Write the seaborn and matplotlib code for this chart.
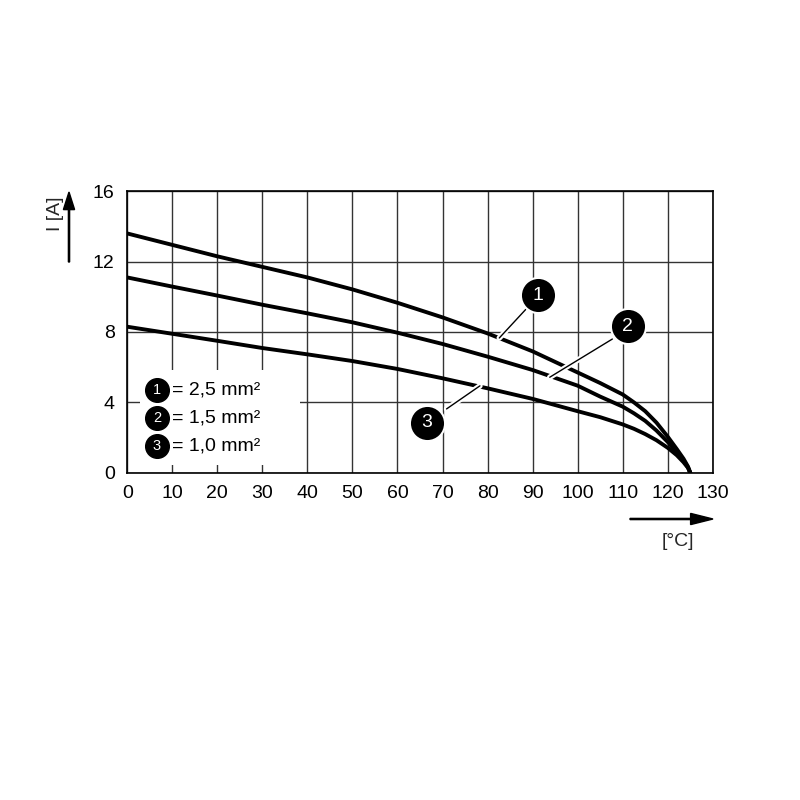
import numpy as np
import pandas as pd
import matplotlib
matplotlib.use("Agg")
import matplotlib.pyplot as plt
import matplotlib.patheffects as pe
from matplotlib.patches import Rectangle, FancyArrow
import seaborn as sns

# Derating curves (temperature in °C, current in A)
temps = [0, 10, 20, 30, 40, 50, 60, 70, 80, 90, 100, 105, 110, 112.5, 115, 117.5,
         120, 122, 123.5, 124.5, 125]
curve_25 = [13.6, 12.95, 12.3, 11.7, 11.1, 10.42, 9.66, 8.83, 7.92, 6.9, 5.7, 5.1, 4.45,
            4.0, 3.5, 2.85, 2.05, 1.35, 0.8, 0.35, 0.0]
curve_15 = [11.1, 10.58, 10.07, 9.55, 9.06, 8.55, 7.96, 7.32, 6.6, 5.84, 4.95, 4.33, 3.76,
            3.38, 2.95, 2.4, 1.75, 1.15, 0.7, 0.3, 0.0]
curve_10 = [8.3, 7.9, 7.5, 7.09, 6.73, 6.35, 5.9, 5.37, 4.8, 4.2, 3.5, 3.16, 2.75,
            2.5, 2.2, 1.85, 1.42, 1.0, 0.6, 0.28, 0.0]

labels = ["1", "2", "3"]
sections = ["2,5 mm²", "1,5 mm²", "1,0 mm²"]

x_ticks = list(range(0, 131, 10))
y_ticks = [0, 4, 8, 12, 16]

# callouts: circle position and leader line (start -> point on curve)
callout_pos = [(91.2, 10.1), (111.1, 8.34), (66.5, 2.84)]
leader_from = [(88.5, 9.29), (107.7, 7.6), (70.9, 3.63)]
leader_to = [(82.6, 7.66), (93.8, 5.43), (78.3, 4.94)]

df = pd.concat([
    pd.DataFrame({"T": temps, "I": vals, "curve": lab})
    for vals, lab in zip([curve_25, curve_15, curve_10], labels)
])

sns.set_theme(style="white")
plt.rcParams["font.family"] = ["Liberation Sans", "DejaVu Sans"]

fig = plt.figure(figsize=(8, 8), dpi=100)
ax = fig.add_axes([0.159, 0.409, 0.732, 0.352])

sns.lineplot(data=df, x="T", y="I", hue="curve", palette=["black"] * 3,
             linewidth=2.8, legend=False, ax=ax, zorder=3)

ax.set_xlim(0, 130)
ax.set_ylim(0, 16)
ax.set_xticks(x_ticks)
ax.set_yticks(y_ticks)
ax.grid(True, color="#333333", linewidth=1.0, zorder=1)
ax.set_axisbelow(True)
for s in ax.spines.values():
    s.set_color("black")
    s.set_linewidth(1.2)
ax.tick_params(length=0, labelsize=14, colors="black", pad=9)
ax.set_xlabel("")
ax.set_ylabel("")

# white box for legend, hiding grid
ax.add_patch(Rectangle((2.9, 0.45), 35.5, 5.4, facecolor="white", edgecolor="none", zorder=2))
for i, (lab, sec) in enumerate(zip(labels, sections)):
    yy = 4.71 - i * 1.58
    ax.scatter([6.6], [yy], s=290, color="black", zorder=4)
    ax.text(6.6, yy, lab, color="white", fontsize=10.5, ha="center", va="center", zorder=5)
    ax.text(10.0, yy, "= " + sec, color="black", fontsize=14, ha="left", va="center", zorder=5)

# callouts with leader lines
for (cx, cy), (x0, y0), (x1, y1), lab in zip(callout_pos, leader_from, leader_to, labels):
    ax.plot([x0, x1], [y0, y1], color="black", linewidth=1.0, zorder=4,
            path_effects=[pe.Stroke(linewidth=4, foreground="white"), pe.Normal()])
    ax.scatter([cx], [cy], s=640, color="black", edgecolors="white", linewidths=1.5, zorder=6)
    ax.text(cx, cy, lab, color="white", fontsize=14, ha="center", va="center", zorder=7)

# axis arrows and unit labels
fig.patches.append(FancyArrow(
    69 / 800, 1 - 262 / 800, 0, 70 / 800, width=0.0015, head_width=0.014,
    head_length=0.022, length_includes_head=True, color="black", transform=fig.transFigure))
fig.text(56 / 800, 1 - 214 / 800, "I [A]", rotation=90, fontsize=14, ha="center", va="center")
fig.patches.append(FancyArrow(
    630 / 800, 1 - 519 / 800, 83 / 800, 0, width=0.0015, head_width=0.014,
    head_length=0.028, length_includes_head=True, color="black", transform=fig.transFigure))
fig.text(678 / 800, 1 - 541 / 800, "[°C]", fontsize=14, ha="center", va="center")

fig.savefig("out.png", dpi=100, facecolor="white")
